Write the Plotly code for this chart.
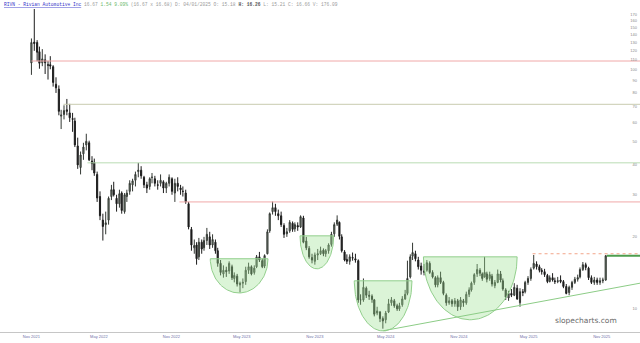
import numpy as np
import pandas as pd
import plotly.graph_objects as go

# ---------------- data ----------------
ipo_date = "2021-11-10"
market_holidays = [
    "2021-09-06", "2021-11-25", "2021-12-24",
    "2022-01-17", "2022-02-21", "2022-04-15", "2022-05-30", "2022-06-20", "2022-07-04",
    "2022-09-05", "2022-11-24", "2022-12-26",
    "2023-01-02", "2023-01-16", "2023-02-20", "2023-04-07", "2023-05-29", "2023-06-19",
    "2023-07-04", "2023-09-04", "2023-11-23", "2023-12-25",
    "2024-01-01", "2024-01-15", "2024-02-19", "2024-03-29", "2024-05-27", "2024-06-19",
    "2024-07-04", "2024-09-02", "2024-11-28", "2024-12-25",
    "2025-01-01", "2025-01-09", "2025-01-20", "2025-02-17", "2025-04-18", "2025-05-26",
    "2025-06-19", "2025-07-04", "2025-09-01", "2025-11-27", "2025-12-25",
    "2026-01-01", "2026-01-19",
]

# weekly candles, weeks starting Monday 2021-11-08
week_start = pd.date_range("2021-11-08", periods=210, freq="7D")

opens = [
    106.8, 130.5, 130.0, 119.0, 107.0, 110.0, 105.0, 105.0,
    103.0, 87.0, 83.0, 64.0, 65.0, 68.0, 66.0, 62.5, 61.0, 48.0, 39.0, 44.5, 48.5, 49.5, 41.5,
    41.0, 36.5, 29.5, 23.5, 22.5, 23.5, 29.5, 31.5, 29.0, 27.5, 30.5, 25.5, 29.5, 31.0, 33.0,
    34.5, 37.5, 38.0, 35.5, 33.0, 32.5, 35.5, 35.0, 33.0, 33.5, 34.0, 32.0, 33.5, 35.0, 30.5,
    33.5, 32.0, 31.0, 30.5, 27.5, 21.5, 18.0,
    18.5, 16.5, 19.0, 18.0, 19.3, 20.0, 18.5, 19.0, 17.5, 15.5, 14.0, 14.5, 14.4, 15.0, 13.4,
    13.7, 12.6, 12.8, 13.0, 14.5, 15.0, 14.2, 15.0, 16.5, 15.9, 15.1, 17.0, 21.2, 25.5, 26.5,
    25.0, 24.5, 22.3, 20.6, 21.2, 22.8, 21.6, 22.3, 22.0, 24.0, 19.2, 17.9, 16.4, 15.8, 16.8,
    17.0, 17.6, 17.0, 17.5, 18.6, 20.6, 22.6,
    23.0, 20.0, 17.3, 16.1, 15.8, 16.4, 16.2, 15.9, 10.9, 10.9, 12.2, 11.4, 11.3, 10.9, 9.6,
    9.7, 9.1, 9.0, 9.7, 10.6, 10.8, 10.3, 10.0, 10.4, 11.0, 11.6, 13.6, 16.6, 17.0, 16.0,
    15.1, 14.2, 14.5, 15.5, 14.2, 13.5, 12.6, 13.5, 12.9, 11.4, 10.6, 10.8, 10.5, 10.8, 10.2,
    10.8, 10.6, 11.5, 12.0, 12.9, 14.0, 14.5, 14.0,
    13.6, 14.0, 13.4, 13.7, 12.5, 12.9, 14.0, 13.1, 12.0, 11.1, 11.6, 11.4, 12.2, 10.6, 11.8,
    11.8, 12.9, 13.4, 14.8, 15.4, 15.0, 14.5, 14.3, 13.8, 13.0, 13.5, 13.1, 13.0, 13.2, 13.0,
    12.4, 11.7, 12.3, 12.9, 13.3, 13.6, 14.6, 15.3, 14.8, 13.5, 12.9, 13.2, 12.9, 13.1, 13.2,
]
highs = [
    135.2, 179.5, 133.0, 125.0, 122.0, 116.0, 109.0, 114.0,
    104.5, 93.0, 86.0, 68.0, 71.0, 75.5, 72.0, 66.0, 63.0, 52.0, 45.5, 49.5, 54.0, 50.5, 43.5,
    42.5, 37.5, 31.0, 25.0, 25.5, 29.5, 33.0, 34.0, 30.0, 31.5, 31.0, 30.5, 31.5, 34.5, 35.0,
    37.5, 40.8, 39.5, 36.0, 34.0, 35.5, 37.0, 36.0, 34.5, 36.5, 34.5, 34.0, 36.5, 35.5, 35.0,
    35.5, 33.0, 32.5, 31.5, 28.0, 22.0, 19.5,
    19.0, 19.8, 19.5, 20.0, 21.8, 21.0, 20.5, 19.5, 18.0, 16.0, 15.2, 15.0, 15.8, 15.3, 14.2,
    14.0, 13.0, 13.4, 15.0, 15.6, 15.2, 15.2, 16.8, 17.3, 16.2, 16.9, 21.5, 25.3, 28.1, 27.5,
    26.0, 25.5, 22.8, 21.8, 23.5, 23.2, 23.0, 23.0, 24.6, 24.5, 20.0, 18.3, 17.0, 17.2, 17.8,
    18.2, 17.9, 17.8, 18.8, 21.0, 23.0, 24.6,
    23.2, 20.5, 17.6, 16.9, 16.9, 17.2, 17.0, 16.1, 11.5, 13.4, 12.4, 11.9, 11.5, 11.0, 10.2,
    9.8, 9.3, 9.8, 11.0, 11.2, 11.0, 10.5, 10.6, 11.3, 12.0, 15.9, 16.9, 18.9, 17.5, 16.5,
    15.6, 15.4, 16.0, 15.8, 14.5, 13.7, 13.8, 14.3, 13.1, 11.6, 11.2, 11.0, 11.1, 11.0, 11.2,
    11.0, 11.8, 12.3, 13.0, 14.1, 15.4, 14.8, 14.2,
    16.5, 14.3, 14.3, 14.0, 13.2, 14.6, 14.4, 13.4, 12.2, 11.9, 12.1, 12.8, 12.6, 12.2, 12.1,
    13.1, 13.7, 14.9, 16.8, 15.8, 15.3, 14.8, 14.7, 14.0, 13.8, 14.1, 13.5, 13.6, 13.8, 13.2,
    12.7, 12.5, 13.1, 13.6, 13.9, 14.9, 15.7, 15.6, 15.0, 13.8, 13.6, 13.5, 13.5, 13.5, 16.8,
]
lows = [
    95.2, 120.0, 108.5, 101.0, 103.5, 96.0, 91.0, 100.5,
    85.0, 80.0, 64.5, 56.5, 62.0, 64.5, 60.5, 55.0, 47.5, 38.5, 36.5, 42.0, 46.0, 41.5, 38.0,
    36.0, 28.0, 23.5, 19.3, 20.5, 22.5, 28.5, 29.5, 25.5, 26.5, 25.0, 25.0, 28.0, 30.0, 31.0,
    32.5, 35.5, 35.0, 32.0, 30.5, 31.5, 33.5, 32.5, 31.5, 32.5, 30.5, 30.5, 32.5, 30.0, 28.0,
    31.0, 30.0, 29.5, 27.5, 21.5, 17.5, 17.0,
    15.3, 16.0, 17.0, 17.5, 18.5, 17.8, 18.0, 17.0, 15.0, 13.8, 13.5, 13.6, 14.0, 13.2, 12.9,
    12.4, 11.7, 12.2, 12.6, 14.0, 13.8, 13.9, 14.8, 15.7, 14.8, 14.8, 16.9, 20.8, 24.8, 24.5,
    23.5, 22.0, 19.8, 20.0, 20.8, 21.0, 21.0, 21.2, 21.8, 18.8, 17.6, 16.2, 15.5, 15.3, 16.0,
    16.8, 16.6, 16.5, 17.0, 18.2, 20.0, 22.2,
    19.5, 17.2, 15.8, 15.4, 15.3, 15.9, 15.6, 10.6, 10.4, 10.7, 11.1, 10.9, 10.6, 9.3, 9.4,
    8.8, 8.26, 8.7, 9.6, 10.3, 10.1, 9.8, 9.8, 10.2, 10.9, 11.4, 13.4, 16.0, 15.8, 14.6,
    13.9, 13.8, 14.3, 14.0, 13.4, 12.3, 12.3, 12.7, 11.4, 10.3, 10.4, 10.2, 10.2, 9.8, 9.9,
    10.2, 10.4, 11.2, 11.8, 12.6, 13.6, 13.7, 13.1,
    13.5, 12.9, 13.1, 12.4, 12.2, 12.8, 12.9, 11.9, 10.9, 10.8, 11.2, 11.3, 10.9, 10.2, 11.3,
    11.6, 12.6, 13.1, 14.6, 14.6, 14.2, 13.9, 13.6, 12.8, 12.9, 13.0, 12.7, 12.8, 12.8, 12.2,
    11.5, 11.4, 12.0, 12.7, 13.0, 13.4, 14.4, 14.5, 13.2, 12.7, 12.6, 12.6, 12.6, 12.8, 13.1,
]
closes = [
    130.0, 128.7, 118.4, 106.5, 111.0, 107.0, 104.5, 103.7,
    88.5, 84.0, 67.0, 64.6, 67.5, 67.0, 63.0, 62.0, 48.5, 40.0, 44.0, 47.5, 50.2, 42.0, 40.5,
    37.0, 29.1, 24.5, 22.1, 22.9, 29.0, 31.5, 30.0, 27.5, 30.3, 25.8, 30.0, 30.5, 33.5, 34.3,
    36.5, 38.0, 36.0, 33.0, 32.0, 35.0, 35.5, 33.5, 32.9, 34.5, 32.0, 33.5, 35.5, 31.0, 33.5,
    32.5, 31.5, 31.0, 28.0, 22.0, 18.5, 18.4,
    16.2, 19.0, 17.8, 19.3, 20.5, 18.5, 19.5, 17.5, 15.5, 14.2, 14.5, 14.3, 15.5, 13.5, 13.8,
    12.7, 12.8, 12.9, 14.5, 15.0, 14.0, 14.8, 16.5, 16.0, 15.0, 16.7, 21.0, 25.0, 26.5, 25.5,
    24.5, 22.5, 20.5, 21.0, 23.0, 21.5, 22.5, 22.0, 24.3, 19.0, 18.0, 16.5, 16.0, 16.8, 17.0,
    17.5, 17.0, 17.5, 18.5, 20.5, 22.5, 23.5,
    20.1, 17.5, 16.0, 15.8, 16.5, 16.3, 16.0, 10.9, 10.9, 12.3, 11.4, 11.3, 10.95, 9.5, 9.8,
    9.1, 8.9, 9.6, 10.5, 10.9, 10.3, 10.0, 10.3, 11.0, 11.5, 13.4, 16.5, 17.2, 16.2, 15.0,
    14.5, 14.4, 15.6, 14.2, 13.6, 12.6, 13.5, 12.9, 11.6, 10.6, 10.8, 10.5, 10.8, 10.2, 10.9,
    10.6, 11.5, 12.0, 12.8, 13.9, 14.6, 14.1, 13.4,
    14.2, 13.3, 13.9, 12.7, 12.9, 14.0, 13.2, 12.1, 11.2, 11.6, 11.4, 12.3, 11.0, 11.8, 11.7,
    12.9, 13.4, 14.6, 15.5, 15.0, 14.5, 14.3, 13.9, 13.0, 13.5, 13.2, 13.0, 13.1, 13.0, 12.4,
    11.6, 12.3, 12.9, 13.3, 13.5, 14.6, 15.3, 14.9, 13.5, 12.9, 13.2, 12.9, 13.1, 13.2, 16.67,
]

# x-axis labels
tick_dates = ["2021-11-10", "2022-05-01", "2022-11-01", "2023-05-01", "2023-11-01",
              "2024-05-01", "2024-11-01", "2025-05-01", "2025-11-01"]
tick_labels = ["Nov 2021", "May 2022", "Nov 2022", "May 2023", "Nov 2023",
               "May 2024", "Nov 2024", "May 2025", "Nov 2025"]
y_ticks = [10, 20, 30, 40, 50, 60, 70, 80, 90, 100, 110, 120, 130, 140, 150, 160, 170]
view_start, view_end = "2021-08-24", "2026-02-10"
price_low, price_high = 8.0, 195.8

# horizontal levels
level_price = [108.8, 71.7, 40.8, 28.0]
level_start = ["2021-11-10", "2022-02-01", "2022-04-01", "2022-11-21"]
resist_price, resist_start = 17.0, "2025-05-12"
last_price, last_start = 16.67, "2025-11-14"

# rounded bases (cups)
cup_start = ["2023-02-09", "2023-09-26", "2024-02-12", "2024-08-06"]
cup_end = ["2023-07-07", "2023-12-19", "2024-07-09", "2025-04-02"]
cup_top = [16.2, 20.2, 13.1, 16.5]
cup_bottom = [11.65, 14.7, 8.08, 9.0]

# rising trendline
trend_dates = ["2024-04-25", "2026-02-10"]
trend_prices = [8.1, 12.8]

# ---------------- helpers ----------------
hol = np.array(market_holidays, dtype="datetime64[D]")
base = np.datetime64(ipo_date, "D")


def tidx(d):
    d = np.datetime64(pd.Timestamp(d).date(), "D")
    return int(np.busday_count(base, d, holidays=hol))


x_week = [tidx(d) + 2 for d in week_start]
x0, x1 = tidx(view_start), tidx(view_end)

fig = go.Figure()

level_colors = ["#f0a8a8", "#c9cbb0", "#b9dcb4", "#f0a8a8"]
for p, s, c in zip(level_price, level_start, level_colors):
    fig.add_trace(go.Scatter(x=[tidx(s), x1], y=[p, p], mode="lines",
                             line=dict(color=c, width=1), hoverinfo="skip"))

for s, e, t, b in zip(cup_start, cup_end, cup_top, cup_bottom):
    xs, xe = tidx(s), tidx(e)
    cx, rx = (xs + xe) / 2, (xe - xs) / 2
    th = np.linspace(0, np.pi, 80)
    lt, lb = np.log10(t), np.log10(b)
    px = cx + rx * np.cos(th)
    py = 10 ** (lt - (lt - lb) * np.sin(th))
    fig.add_trace(go.Scatter(x=list(px) + [px[0]], y=list(py) + [py[0]], mode="lines",
                             fill="toself", fillcolor="rgba(160,225,150,0.38)",
                             line=dict(color="#92cf8c", width=1), hoverinfo="skip"))

fig.add_trace(go.Scatter(x=[tidx(d) for d in trend_dates], y=trend_prices, mode="lines",
                         line=dict(color="#8ccc86", width=1), hoverinfo="skip"))

fig.add_trace(go.Candlestick(
    x=x_week, open=opens, high=highs, low=lows, close=closes,
    increasing=dict(line=dict(color="#333833", width=1), fillcolor="#7d8a7d"),
    decreasing=dict(line=dict(color="#1c1c1c", width=1), fillcolor="#1c1c1c"),
    whiskerwidth=0, hoverinfo="skip"))

fig.add_trace(go.Scatter(x=[tidx(resist_start), x1], y=[resist_price, resist_price], mode="lines",
                         line=dict(color="#f2a58a", width=1, dash="dot"), hoverinfo="skip"))
fig.add_trace(go.Scatter(x=[tidx(last_start), x1], y=[last_price, last_price], mode="lines",
                         line=dict(color="#4e9e4e", width=2), hoverinfo="skip"))

title_html = ("<span style='color:#3535c8;text-decoration:underline'>RIVN - Rivian Automotive Inc</span>"
              "<span style='color:#9a9a9a'> 16.67 </span>"
              "<span style='color:#6bb86b'>1.54 9.09%</span>"
              "<span style='color:#9a9a9a'> (16.67 x 16.68) D: 04/01/2025 O: 15.18 </span>"
              "<span style='color:#555'><b>H: 16.26</b></span>"
              "<span style='color:#9a9a9a'> L: 15.21 C: 16.66 V: 176.09</span>")

fig.update_layout(
    width=640, height=343, autosize=False,
    margin=dict(l=0, r=0, t=0, b=11),
    paper_bgcolor="white", plot_bgcolor="white",
    showlegend=False,
    xaxis=dict(range=[x0, x1], tickmode="array",
               tickvals=[tidx(d) for d in tick_dates], ticktext=tick_labels,
               showgrid=False, zeroline=False, showline=True, linecolor="#c6c6c6", linewidth=1,
               ticks="", tickfont=dict(family="Liberation Sans", size=4, color="#6f6fa8"),
               rangeslider=dict(visible=False), fixedrange=True),
    yaxis=dict(type="log", range=[np.log10(price_low), np.log10(price_high)],
               side="right", ticklabelposition="inside", tickmode="array",
               tickvals=y_ticks, ticktext=[str(v) for v in y_ticks],
               showgrid=False, zeroline=False, showline=False, ticks="",
               tickfont=dict(family="Liberation Sans", size=4, color="#8a8a8a")),
    annotations=[
        dict(xref="paper", yref="paper", x=0.003, y=1.0, xanchor="left", yanchor="top",
             text=title_html, showarrow=False,
             font=dict(family="Liberation Mono", size=4.6, color="#9a9a9a")),
        dict(xref="paper", yref="paper", x=0.915, y=0.036, xanchor="center", yanchor="middle",
             text="slopecharts.com", showarrow=False,
             font=dict(family="DejaVu Sans", size=7.5, color="#6a6a6a")),
    ],
)

fig.write_html("out.html")
